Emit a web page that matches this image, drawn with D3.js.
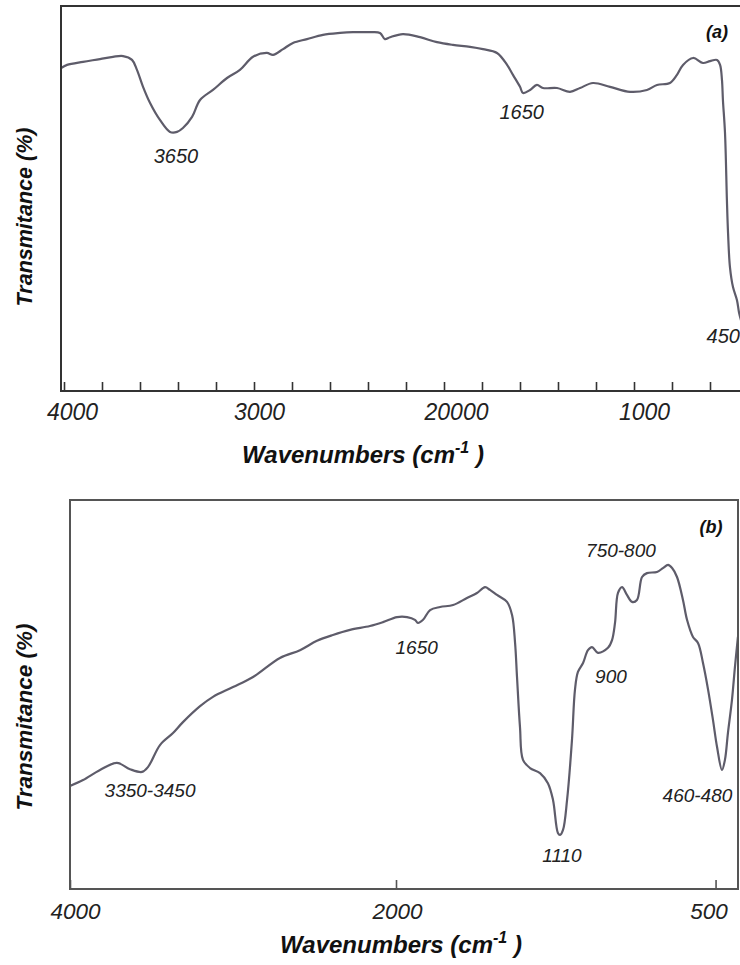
<!DOCTYPE html>
<html>
<head>
<meta charset="utf-8">
<title>FTIR spectra (a) and (b)</title>
<script src="https://d3js.org/d3.v7.min.js"></script>
<style>
body { margin: 0; background: #fff; }
text { font-family: "Liberation Sans", Arial, sans-serif; }
</style>
</head>
<body>
<script>
// panel (a): wavenumber (cm-1) and transmittance (relative %)
var wnA = [4015,3984,3900,3811,3742,3689,3642,3616,3584,3547,3495,3442,3405,3374,3326,3284,3216,3142,3074,3005,
           2932,2900,2847,2795,2721,2637,2547,2479,2389,2337,2311,2284,2216,2126,2037,1953,1863,1795,1721,1668,
           1637,1600,1584,1547,1511,1479,1405,1337,1284,1216,1126,1021,932,879,811,774,742,689,637,600,
           563,547,537,532,521,511,505,495,479,458,447,437];
var tA = [83.9,84.7,85.5,86.2,86.8,87.0,86.0,83.4,79.0,74.8,70.4,67.3,67.3,68.3,71.2,75.6,78.2,81.3,83.4,86.8,
          87.8,87.3,88.8,90.4,91.4,92.5,93.0,93.2,93.2,93.0,91.4,91.9,92.7,91.9,90.6,89.9,89.4,88.8,87.8,84.7,
          82.1,79.0,77.4,78.2,79.5,78.7,78.7,77.7,78.7,80.0,79.0,77.7,78.2,79.5,80.0,82.1,84.7,86.5,85.2,85.7,
          86.0,84.7,80.8,75.6,67.0,49.6,41.0,32.2,27.0,23.6,20.3,18.4];

// panel (b)
var wnB = [4000,3920,3816,3712,3632,3558,3521,3448,3368,3307,3202,3123,3000,2877,2712,2589,2485,2387,2282,2160,
           2080,1995,1948,1911,1897,1873,1840,1793,1732,1667,1620,1582,1559,1526,1479,1455,1441,1432,1418,1404,
           1371,1324,1287,1263,1240,1230,1216,1197,1174,1160,1146,1122,1099,1080,1052,1005,986,972,958,939,
           916,892,869,845,822,775,747,723,704,681,653,634,606,582,559,535,512,493,470,456,
           442,423,409,395];
var tB = [26.5,28.0,30.6,32.4,30.8,30.1,31.4,37.0,40.1,42.9,47.0,49.4,51.9,54.5,59.4,61.4,63.8,65.3,66.6,67.6,
          68.6,69.9,69.9,69.2,68.4,69.2,71.7,72.5,73.0,74.8,76.1,77.6,76.9,75.6,73.8,70.4,63.2,54.5,41.6,33.2,
          31.1,29.8,27.2,22.9,14.4,13.9,15.2,22.9,38.3,51.2,55.8,58.1,61.4,62.2,60.7,62.0,64.0,68.4,76.1,77.6,
          75.6,73.8,74.3,80.2,81.2,81.5,82.5,83.3,82.5,80.2,74.3,69.2,64.8,63.2,58.1,51.2,43.4,36.5,30.6,33.2,
          40.1,48.6,57.1,64.8];

// axis ticks and labels (the "20000" label is as printed in the original)
var ticksA = [4000,3800,3600,3400,3200,3000,2800,2600,2400,2200,2000,1800,1600,1400,1200,1000,800,600,400];
var tickLabelsA = {4000: "4000", 3000: "3000", 2000: "20000", 1000: "1000"};
var ticksB = [4000, 2000, 500];
var tickLabelsB = {4000: "4000", 2000: "2000", 500: "500"};

// peak annotations
var peakTextA = ["3650", "1650", "450"];
var peakWnA = [3411, 1591, 530];
var peakTA = [59.2, 70.6, 12.5];
var peakTextB = ["3350-3450", "1650", "1110", "900", "750-800", "460-480"];
var peakWnB = [3509, 1903, 1221, 991, 944, 585];
var peakTB = [23.7, 60.4, 6.9, 53.0, 85.3, 22.4];

var W = 740, H = 965;
var svg = d3.select("body").append("svg")
    .attr("width", W)
    .attr("height", H);

function panel(o) {
    var g = svg.append("g");
    var line = d3.line()
        .x(function(d) { return o.x(d[0]); })
        .y(function(d) { return o.y(d[1]); })
        .curve(d3.curveCatmullRom.alpha(0.5));

    var clipId = "clip" + o.name;
    g.append("clipPath").attr("id", clipId)
      .append("rect")
        .attr("x", o.box[0]).attr("y", o.box[1])
        .attr("width", o.box[2] - o.box[0]).attr("height", o.box[3] - o.box[1]);

    g.append("path")
        .datum(d3.zip(o.wn, o.t))
        .attr("clip-path", "url(#" + clipId + ")")
        .attr("fill", "none")
        .attr("stroke", "#5e5c6a")
        .attr("stroke-width", 2.2)
        .attr("stroke-linejoin", "round")
        .attr("d", line);

    // frame
    g.append("rect")
        .attr("x", o.box[0]).attr("y", o.box[1])
        .attr("width", o.box[2] - o.box[0]).attr("height", o.box[3] - o.box[1])
        .attr("fill", "none")
        .attr("stroke", o.frameColor)
        .attr("stroke-width", 2);

    var axis = d3.axisBottom(o.x)
        .tickValues(o.ticks)
        .tickSize(-9)
        .tickSizeOuter(0)
        .tickPadding(o.pad)
        .tickFormat(function(d) { return o.labels[d] || ""; });
    var ax = g.append("g")
        .attr("transform", "translate(0," + o.box[3] + ")")
        .call(axis);
    ax.select(".domain").remove();
    ax.selectAll(".tick line").attr("stroke", o.frameColor).attr("stroke-width", 1.6);
    ax.selectAll(".tick text")
        .attr("dx", function(d) { return o.tickDx[d] || 0; })
        .attr("fill", "#222")
        .style("font-family", "'Liberation Sans', Arial, sans-serif")
        .style("font-style", "italic")
        .style("font-size", o.tickFont + "px");

    // peak labels
    g.selectAll("text.peak")
        .data(d3.range(o.peakText.length))
        .enter().append("text")
        .attr("class", "peak")
        .attr("x", function(i) { return o.x(o.peakWn[i]); })
        .attr("y", function(i) { return o.y(o.peakT[i]); })
        .attr("text-anchor", "middle")
        .attr("fill", "#222")
        .style("font-style", "italic")
        .style("font-size", o.peakFont + "px")
        .text(function(i) { return o.peakText[i]; });

    // panel letter
    g.append("text")
        .attr("x", o.letterPos[0]).attr("y", o.letterPos[1])
        .attr("text-anchor", "middle")
        .style("font-weight", "bold").style("font-style", "italic")
        .style("font-size", "18px")
        .attr("fill", "#111")
        .text(o.letter);

    // x title with superscript
    var xt = g.append("text")
        .attr("x", o.xTitle[0]).attr("y", o.xTitle[1])
        .attr("text-anchor", "middle")
        .style("font-weight", "bold").style("font-style", "italic")
        .style("font-size", o.titleFont + "px")
        .attr("fill", "#111");
    xt.append("tspan").text("Wavenumbers (cm");
    xt.append("tspan").attr("dy", -10).style("font-size", "16px").text("-1");
    xt.append("tspan").attr("dy", 10).text(" )");

    // y title
    g.append("text")
        .attr("transform", "translate(" + o.yTitle[0] + "," + o.yTitle[1] + ") rotate(-90)")
        .attr("text-anchor", "middle")
        .style("font-weight", "bold").style("font-style", "italic")
        .style("font-size", o.yTitleFont + "px")
        .attr("fill", "#111")
        .text("Transmitance (%)");
}

panel({
    name: "a",
    wn: wnA, t: tA,
    x: d3.scaleLinear().domain([4000, 400]).range([64, 748]),
    y: d3.scaleLinear().domain([0, 100]).range([391, 6]),
    box: [61, 6, 760, 391],
    frameColor: "#333",
    ticks: ticksA, labels: tickLabelsA, pad: 13, tickFont: 23,
    tickDx: {4000: 8, 3000: 5, 2000: 12, 1000: 10},
    peakText: peakTextA, peakWn: peakWnA, peakT: peakTA, peakFont: 20,
    letter: "(a)", letterPos: [717, 38],
    xTitle: [363, 463], titleFont: 24,
    yTitle: [32, 217], yTitleFont: 21.5
});

panel({
    name: "b",
    wn: wnB, t: tB,
    x: d3.scaleLinear().domain([4000, 2000, 390]).range([70, 396, 739]),
    y: d3.scaleLinear().domain([0, 100]).range([889, 500]),
    box: [70, 500, 738, 889],
    frameColor: "#555",
    ticks: ticksB, labels: tickLabelsB, pad: 14, tickFont: 22.5,
    tickDx: {4000: 5, 2000: 1, 500: -7},
    peakText: peakTextB, peakWn: peakWnB, peakT: peakTB, peakFont: 19,
    letter: "(b)", letterPos: [711, 533],
    xTitle: [401, 953], titleFont: 24,
    yTitle: [32, 717], yTitleFont: 22.5
});
</script>
</body>
</html>
